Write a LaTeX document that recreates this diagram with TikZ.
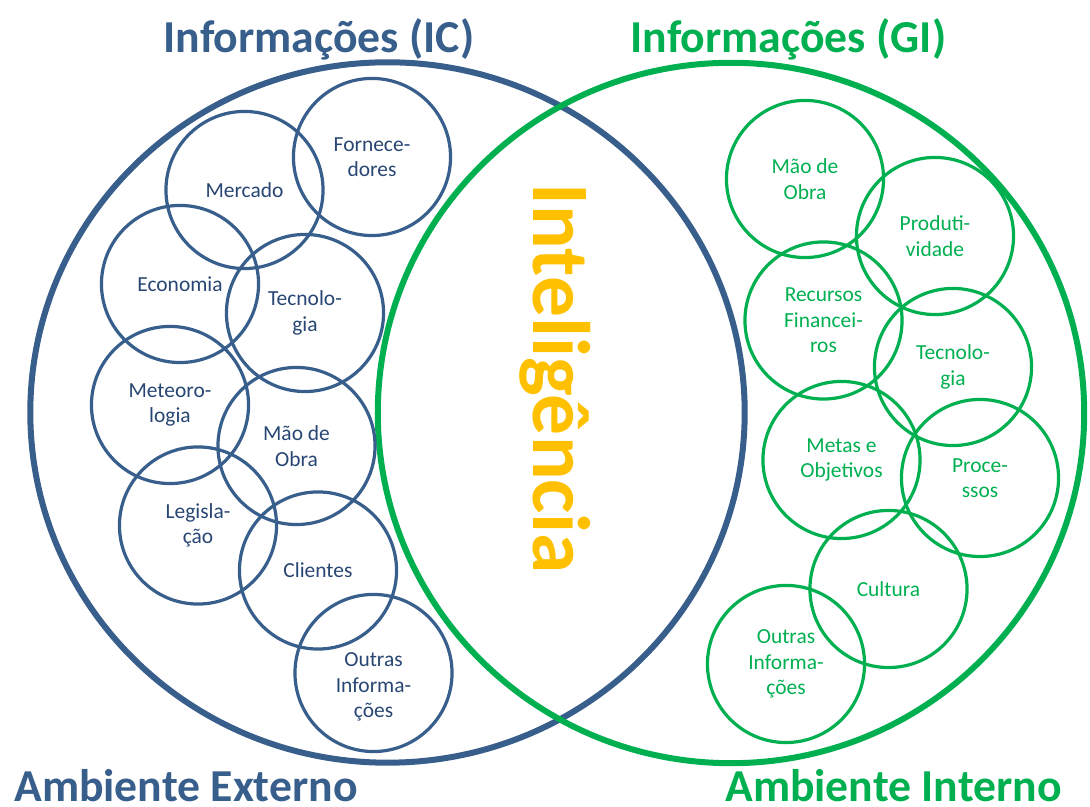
\documentclass[tikz,border=0pt]{standalone}
\usepackage{fontspec}
\setmainfont{Carlito}
\usetikzlibrary{shapes.geometric}
\usepackage{xcolor}
\definecolor{icblue}{RGB}{56,94,140}
\definecolor{ictext}{RGB}{40,70,115}
\definecolor{gigreen}{RGB}{0,176,80}
\definecolor{intgold}{RGB}{255,192,0}
\tikzset{
area/.style={draw,ellipse,line width=0.06cm,inner sep=0pt},
topic/.style={draw,circle,minimum size=1.57cm,inner sep=0pt,line width=0.032cm,align=center,font=\fontsize{6.1}{7.2}\selectfont},
ictopic/.style={topic,icblue,text=ictext},
gitopic/.style={topic,gigreen},
topiclabel/.style={align=center,font=\fontsize{6.1}{7.2}\selectfont,text=ictext},
heading/.style={font=\fontsize{13}{15}\selectfont\bfseries,anchor=base,inner sep=0pt}
}

\begin{document}
\begin{tikzpicture}[x=0.01cm,y=-0.01cm]
\useasboundingbox (0,0) rectangle (1090,807);
% the two environments
\node[area,icblue,minimum width=7.14cm,minimum height=7cm] (ic) at (387.5,412.5) {};
\node[area,gigreen,minimum width=7.06cm,minimum height=7cm] (gi) at (731,413) {};
\node[heading,text=icblue] (ictitle) at (319,53) {Informações (IC)};
\node[heading,text=gigreen] (gititle) at (788.5,53) {Informações (GI)};
\node[heading,text=icblue] (extern) at (186,802) {Ambiente Externo};
\node[heading,text=gigreen] (intern) at (893.5,802) {Ambiente Interno};
\node[font=\fontsize{23.2}{28}\selectfont\bfseries,text=intgold,rotate=-90,anchor=base] (intel) at (533,379) {Inteligência};

% external information
\node[ictopic] (fornec) at (372,157) {Fornece-\\dores};
\node[ictopic] (mercado) at (244.5,190) {Mercado};
\node[ictopic] (economia) at (180,284) {Economia};
\node[ictopic] (ictec) at (305,313) {Tecnolo-\\gia};
\node[ictopic] (meteoro) at (170,405) {Meteoro-\\logia};
\node[ictopic] (icmao) at (296.5,446) {Mão de\\Obra};
\node[ictopic] (legisla) at (198,525.5) {Legisla-\\ção};
\node[ictopic] (clientes) at (318,570.5) {Clientes};
\node[ictopic] (icoutras) at (373.5,673) {};
\node[topiclabel] (icoutraslbl) at (373.5,687) {Outras\\Informa-\\ções};

% internal information
\node[gitopic] (gimao) at (805,179) {Mão de\\Obra};
\node[gitopic] (produt) at (935,236) {Produti-\\vidade};
\node[gitopic] (recursos) at (823.5,320.5) {Recursos\\Financei-\\ros};
\node[gitopic] (gitec) at (953,367) {Tecnolo-\\gia};
\node[gitopic] (metas) at (841.5,460) {Metas e\\Objetivos};
\node[gitopic] (process) at (980,478) {Proce-\\ssos};
\node[gitopic] (cultura) at (888.5,589) {Cultura};
\node[gitopic] (gioutras) at (786,664) {Outras\\Informa-\\ções};
\end{tikzpicture}
\end{document}
